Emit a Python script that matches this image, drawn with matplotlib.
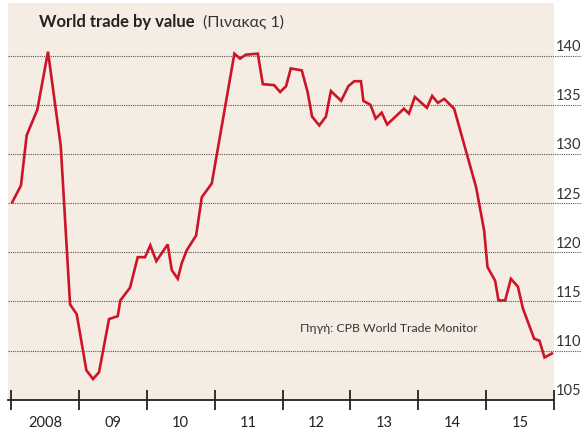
import numpy as np
import matplotlib.pyplot as plt
import matplotlib.transforms as mtransforms

plt.rcParams['font.family'] = ['Lato', 'DejaVu Sans']

# world trade by value, index
dates = [2008.019, 2008.147, 2008.231, 2008.388, 2008.545, 2008.733, 2008.870, 2008.968,
         2009.110, 2009.209, 2009.297, 2009.444, 2009.573, 2009.611, 2009.754, 2009.867,
         2009.975, 2010.053, 2010.141, 2010.309, 2010.368, 2010.457, 2010.516, 2010.589,
         2010.727, 2010.811, 2010.958, 2011.291, 2011.375, 2011.459, 2011.636, 2011.710,
         2011.876, 2011.965, 2012.053, 2012.122, 2012.284, 2012.370, 2012.436, 2012.542,
         2012.640, 2012.713, 2012.864, 2012.971, 2013.058, 2013.156, 2013.192, 2013.296,
         2013.372, 2013.461, 2013.542, 2013.788, 2013.863, 2013.950, 2014.127, 2014.205,
         2014.289, 2014.382, 2014.529, 2014.853, 2014.971, 2015.020, 2015.133, 2015.182,
         2015.281, 2015.365, 2015.468, 2015.541, 2015.708, 2015.786, 2015.860, 2015.969]
values = [125.1, 126.8, 131.9, 134.5, 140.4, 130.8, 114.7, 113.7,
          108.0, 107.1, 107.8, 113.2, 113.5, 115.1, 116.4, 119.5,
          119.5, 120.7, 119.1, 120.8, 118.2, 117.3, 118.9, 120.2,
          121.7, 125.6, 127.0, 140.2, 139.7, 140.1, 140.2, 137.1,
          137.0, 136.3, 136.9, 138.7, 138.5, 136.3, 133.8, 132.9,
          133.8, 136.4, 135.4, 136.9, 137.4, 137.4, 135.4, 135.0,
          133.6, 134.2, 133.0, 134.6, 134.1, 135.8, 134.7, 135.9,
          135.2, 135.6, 134.6, 126.6, 122.2, 118.5, 117.1, 115.1,
          115.1, 117.3, 116.5, 114.3, 111.2, 111.0, 109.3, 109.7]

yticks = [105, 110, 115, 120, 125, 130, 135, 140]
year_ticks = [2008, 2009, 2010, 2011, 2012, 2013, 2014, 2015, 2016]
year_labels = ["2008", "09", "10", "11", "12", "13", "14", "15"]

fig = plt.figure(figsize=(5.81, 4.35), dpi=100)
fig.patch.set_facecolor("white")

W, H = 581, 435
ax = fig.add_axes([8 / W, (H - 400.7) / H, 546 / W, 396.7 / H])
ax.set_facecolor("#f5ede3")
ax.set_xlim(2008 - 3 / 67.85, 2016)
ax.set_ylim(105, 105 + 396.7 / 9.83)

for s in ["top", "left", "right"]:
    ax.spines[s].set_visible(False)
ax.spines["bottom"].set_linewidth(1.3)
ax.spines["bottom"].set_color("#222222")

# dotted gridlines run past the panel to the right edge
for v in yticks[1:]:
    ax.axhline(v, xmin=0, xmax=1 + 27 / 546, color="#555555", lw=0.8,
               ls=(0, (1, 1)), clip_on=False, zorder=1)

# y labels on the right, sitting above the gridlines
trans = mtransforms.offset_copy(ax.get_yaxis_transform(), fig=fig, x=0, y=4, units="points")
for v in yticks:
    ax.text(1 + 2 / 546, v, str(v), transform=trans, ha="left", va="baseline",
            fontsize=10.5, color="#333333")
ax.set_yticks([])

# year ticks crossing the axis line
ax.set_xticks(year_ticks)
ax.set_xticklabels([])
ax.tick_params(axis="x", which="major", direction="inout", length=14, width=1.3,
               color="#222222")
ax.set_xticks([y + 0.5 for y in year_ticks[:-1]], minor=True)
ax.set_xticklabels(year_labels, minor=True)
ax.tick_params(axis="x", which="minor", length=0, pad=11, labelsize=10.5,
               labelcolor="#222222")

ax.plot(dates, values, color="#cc1526", lw=1.9, zorder=3, solid_joinstyle="miter")

fig.text(39 / W, 1 - 27 / H, "World trade by value", fontsize=12, fontweight="bold",
         color="#222222", va="baseline")
fig.text(203 / W, 1 - 27 / H, "(Πινακας 1)", fontsize=11.5, color="#333333",
         va="baseline")

ax.text(2012.26, 112.3, "Πηγή: CPB World Trade Monitor", fontsize=8.8,
        color="#333333", ha="left", va="center")

fig.savefig("out.png", dpi=100)
